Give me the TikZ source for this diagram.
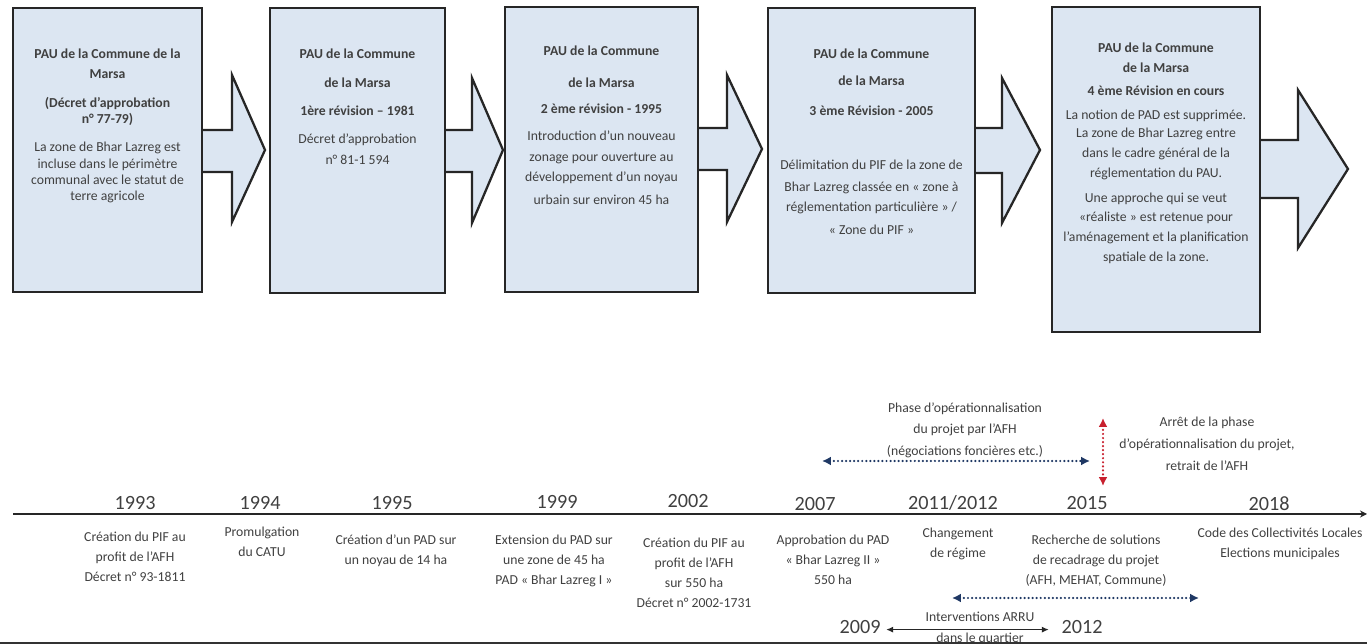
\documentclass[tikz,border=0pt]{standalone}
\usepackage{fontspec}
\setmainfont{Carlito}
\usetikzlibrary{arrows.meta, positioning}

\definecolor{panelfill}{HTML}{DCE6F2}
\definecolor{panelline}{HTML}{262626}
\definecolor{inkgray}{HTML}{404040}
\definecolor{navy}{HTML}{1F3864}
\definecolor{stopred}{HTML}{C8202E}

\begin{document}
\begin{tikzpicture}[
  x=0.02cm, y=-0.02cm,
  panel/.style={rectangle, draw=panelline, line width=1.3pt, fill=panelfill},
  flow/.style={draw=panelline, line width=1.3pt, fill=panelfill, line join=miter},
  ptext/.style={font=\fontsize{7.8}{9.2}\selectfont, text=inkgray,
                align=center, inner sep=0pt},
  year/.style={font=\fontsize{11.5}{13}\selectfont, text=inkgray,
               inner sep=0pt, anchor=base},
  note/.style={font=\fontsize{7.8}{11.4}\selectfont, text=inkgray,
               align=center, inner sep=0pt, anchor=north},
  axis/.style={line width=1.4pt, draw=black!85, -{Stealth[length=4pt,width=4pt]}},
  dotarr/.style={line width=1.4pt, line cap=round, dash pattern=on 0pt off 2.3pt,
                 {Latex[length=5pt,width=5pt]}-{Latex[length=5pt,width=5pt]}},
  span/.style={line width=0.9pt, draw=black!85,
               {Latex[length=4pt,width=3.5pt]}-{Latex[length=4pt,width=3.5pt]}}
]
  \useasboundingbox (0,0) rectangle (1367,644);

  %% -- PAU revisions: boxes and block arrows --------------------------
  \draw[flow] (202,130) -- (232,130) -- (232,75) -- (265,150) -- (232,222) -- (232,172) -- (202,172);
  \draw[flow] (445,130) -- (472,130) -- (472,78) -- (503,150) -- (472,223) -- (472,172) -- (445,172);
  \draw[flow] (698,128) -- (727,128) -- (727,75) -- (762,149) -- (727,222) -- (727,170) -- (698,170);
  \draw[flow] (975,128) -- (1002,128) -- (1002,78) -- (1040,150) -- (1002,223) -- (1002,173) -- (975,173);
  \draw[flow] (1260,140) -- (1298,140) -- (1298,90) -- (1348,169) -- (1298,248) -- (1298,198) -- (1260,198);

  \node[panel, minimum width=3.78cm, minimum height=5.68cm] (b1) at (107.5,150) {};
  \node[panel, minimum width=3.50cm, minimum height=5.70cm] (b2) at (357.5,150.5) {};
  \node[panel, minimum width=3.86cm, minimum height=5.70cm] (b3) at (601.5,149.5) {};
  \node[panel, minimum width=4.14cm, minimum height=5.70cm] (b4) at (871.5,150.5) {};
  \node[panel, minimum width=4.16cm, minimum height=6.50cm] (b5) at (1156,169.5) {};

  \node[ptext, below=0.83cm of b1.north] (t1) {%
    \textbf{PAU de la Commune de la}\\[2.1pt] \textbf{Marsa}\\[7.2pt]
    \textbf{(Décret d’approbation}\\ \textbf{n° 77-79)}\\[7.2pt]
    La zone de Bhar Lazreg  est\\ incluse dans le périmètre\\
    communal avec le statut de\\ terre agricole};
  \node[ptext, below=0.83cm of b2.north] (t2) {%
    \textbf{PAU de la Commune}\\[7.2pt] \textbf{de la Marsa}\\[6.7pt]
    \textbf{1ère révision – 1981}\\[6.7pt]
    Décret d’approbation\\[3.3pt] n° 81-1 594};
  \node[ptext, below=0.79cm of b3.north] (t3) {%
    \textbf{PAU de la Commune}\\[9pt] \textbf{de la Marsa}\\[5.5pt]
    \textbf{2 ème révision - 1995}\\[6.1pt]
    Introduction d’un nouveau\\[3.3pt] zonage  pour ouverture au\\[2.1pt]
    développement d’un noyau\\[3.8pt] urbain sur environ 45 ha};
  \node[ptext, below=0.83cm of b4.north] (t4) {%
    \textbf{PAU de la Commune}\\[6.1pt] \textbf{de la Marsa}\\[7.8pt]
    \textbf{3 ème Révision - 2005}\\[22pt]
    Délimitation du PIF de la zone de\\[3.3pt] Bhar Lazreg  classée en « zone à\\[2.1pt]
    réglementation particulière » /\\[3.8pt] « Zone du PIF »};
  \node[ptext, below=0.73cm of b5.north] (t5) {%
    \textbf{PAU de la Commune}\\[2.1pt] \textbf{de la Marsa}\\[3.8pt]
    \textbf{4 ème Révision en cours}\\[5pt]
    La notion de PAD est  supprimée.\\[1pt] La zone de Bhar Lazreg entre\\[2.1pt]
    dans le cadre général de la\\[2.1pt] réglementation du PAU.\\[5pt]
    Une approche qui se veut\\[1.6pt] «réaliste » est retenue pour\\[2.1pt]
    l’aménagement et la planification\\[2.1pt] spatiale de la zone.};

  %% -- Timeline axis and years ----------------------------------------
  \coordinate (ax0) at (13,514);
  \coordinate (ax1) at (1367,514);
  \draw[axis] (ax0) -- (ax1);

  \node[year] (y1993) at (135,510) {1993};
  \node[year] (y1994) at (260,510) {1994};
  \node[year] (y1995) at (392,510) {1995};
  \node[year] (y1999) at (557,509) {1999};
  \node[year] (y2002) at (688,508) {2002};
  \node[year] (y2007) at (815,511) {2007};
  \node[year] (y2011) at (953,510) {2011/2012};
  \node[year] (y2015) at (1087,510) {2015};
  \node[year] (y2018) at (1269,511) {2018};

  %% -- Events under the axis ------------------------------------------
  \node[note] (n1993) at (135,532) {Création du PIF au\\profit de l’AFH\\Décret n° 93-1811};
  \node[note] (n1994) at (262,527) {Promulgation\\du CATU};
  \node[note] (n1995) at (396,534) {Création d’un PAD sur\\un noyau de 14 ha};
  \node[note] (n1999) at (554,535) {Extension du PAD sur\\une zone de 45 ha\\PAD « Bhar Lazreg I »};
  \node[note] (n2002) at (694,538) {Création du PIF au\\profit de l’AFH\\sur 550 ha\\Décret n° 2002-1731};
  \node[note] (n2007) at (833,535) {Approbation du PAD\\« Bhar Lazreg II »\\550 ha};
  \node[note] (n2011) at (958,528) {Changement\\de régime};
  \node[note] (n2015) at (1096,535) {Recherche de solutions\\de recadrage du projet\\(AFH, MEHAT, Commune)};
  \node[note] (n2018) at (1280,528) {Code des Collectivités Locales\\Elections municipales};

  %% -- Project phases above the axis ----------------------------------
  \node[note, font=\fontsize{7.8}{12.4}\selectfont] (phase) at (965,402) {Phase d’opérationnalisation\\du projet par l’AFH\\(négociations foncières etc.)};
  \node[note, font=\fontsize{7.8}{12.4}\selectfont] (stop) at (1207,417) {Arrêt de la phase\\d’opérationnalisation du projet,\\retrait de l’AFH};
  \coordinate (ph0) at (822,461);
  \coordinate (ph1) at (1090,461);
  \draw[dotarr, draw=navy, color=navy] (ph0) -- (ph1);
  \coordinate (st0) at (1103,418);
  \coordinate (st1) at (1103,486);
  \draw[dotarr, draw=stopred, color=stopred] (st0) -- (st1);

  %% -- Reframing period and ARRU works ---------------------------------
  \coordinate (rc0) at (952,598);
  \coordinate (rc1) at (1199,598);
  \draw[dotarr, draw=navy, color=navy] (rc0) -- (rc1);

  \node[year] (y2009) at (860,634) {2009};
  \node[year] (y2012) at (1082,634) {2012};
  \draw[span] ([xshift=3pt, yshift=2.5pt]y2009.base east) -- ([xshift=-7pt, yshift=2.5pt]y2012.base west);
  \node[note, font=\fontsize{7.8}{11.8}\selectfont] (arru) at (980,612) {Interventions ARRU\\dans le quartier};

  \draw[line width=1.6pt, black!80] (0,643) -- (1367,643);
\end{tikzpicture}
\end{document}
